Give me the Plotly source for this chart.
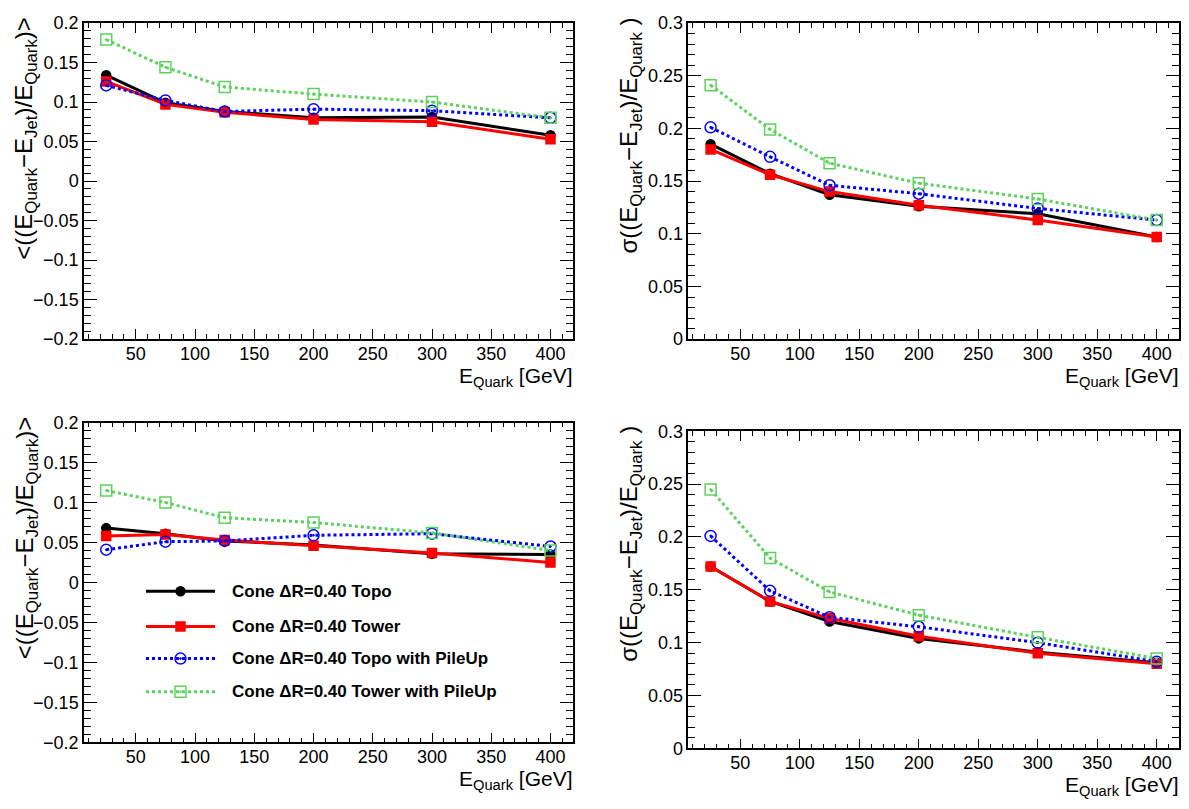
import plotly.graph_objects as go

# Quark energies (GeV) at which the jet response was evaluated
energy = [25, 75, 125, 200, 300, 400]

# Upper row: mean relative energy difference
mean_a_topo = [0.134, 0.099, 0.088, 0.080, 0.081, 0.058]
mean_a_tower = [0.126, 0.097, 0.087, 0.078, 0.075, 0.053]
mean_a_topo_pu = [0.121, 0.102, 0.088, 0.091, 0.089, 0.080]
mean_a_tower_pu = [0.179, 0.144, 0.119, 0.110, 0.100, 0.080]

# Upper row: resolution
sigma_a_topo = [0.185, 0.157, 0.137, 0.126, 0.119, 0.097]
sigma_a_tower = [0.180, 0.156, 0.140, 0.127, 0.113, 0.097]
sigma_a_topo_pu = [0.201, 0.173, 0.146, 0.138, 0.124, 0.113]
sigma_a_tower_pu = [0.241, 0.199, 0.167, 0.148, 0.133, 0.113]

# Lower row: mean relative energy difference
mean_b_topo = [0.068, 0.061, 0.052, 0.047, 0.036, 0.035]
mean_b_tower = [0.058, 0.060, 0.053, 0.046, 0.037, 0.025]
mean_b_topo_pu = [0.041, 0.051, 0.052, 0.059, 0.061, 0.045]
mean_b_tower_pu = [0.115, 0.100, 0.081, 0.075, 0.062, 0.040]

# Lower row: resolution
sigma_b_topo = [0.172, 0.139, 0.120, 0.104, 0.091, 0.081]
sigma_b_tower = [0.172, 0.139, 0.123, 0.106, 0.090, 0.080]
sigma_b_topo_pu = [0.201, 0.149, 0.124, 0.115, 0.100, 0.082]
sigma_b_tower_pu = [0.245, 0.180, 0.148, 0.126, 0.105, 0.085]

series_labels = [
    "Cone ΔR=0.40 Topo",
    "Cone ΔR=0.40 Tower",
    "Cone ΔR=0.40 Topo with PileUp",
    "Cone ΔR=0.40 Tower with PileUp",
]

W, H = 1189, 809
FONT = "Liberation Sans, Arial, Helvetica, sans-serif"
GREEN = "#5cd25c"

styles = [
    dict(color="black", dash="solid", symbol="circle", size=9),
    dict(color="#ff0000", dash="solid", symbol="square", size=9),
    dict(color="#0000ff", dash="dot", symbol="circle-open-dot", size=11),
    dict(color=GREEN, dash="dot", symbol="square-open-dot", size=11),
]


def fx(p):
    return p / W


def fy(p):
    return 1 - p / H


# Frame boxes in pixels: left, right, top, bottom
panels = [
    dict(box=(84, 572.7, 13.3, 337.5), yrange=[-0.2, 0.2], kind="mean",
         data=[mean_a_topo, mean_a_tower, mean_a_topo_pu, mean_a_tower_pu]),
    dict(box=(688.3, 1179, 13.3, 337.5), yrange=[0, 0.3], kind="sigma",
         data=[sigma_a_topo, sigma_a_tower, sigma_a_topo_pu, sigma_a_tower_pu]),
    dict(box=(84, 572.7, 423, 751), yrange=[-0.2, 0.2], kind="mean",
         data=[mean_b_topo, mean_b_tower, mean_b_topo_pu, mean_b_tower_pu]),
    dict(box=(688.3, 1179, 432, 757), yrange=[0, 0.3], kind="sigma",
         data=[sigma_b_topo, sigma_b_tower, sigma_b_topo_pu, sigma_b_tower_pu]),
]

fig = go.Figure()
layout = dict(
    width=W, height=H, margin=dict(l=0, r=0, t=0, b=0),
    paper_bgcolor="white", plot_bgcolor="rgba(0,0,0,0)",
    showlegend=False, font=dict(family=FONT, color="black"),
)
annotations = []

axis_common = dict(
    showline=True, mirror="allticks", linecolor="black", linewidth=1.5,
    ticks="inside", tickcolor="black", tickwidth=1.2,
    showgrid=False, zeroline=False,
    tickfont=dict(family=FONT, size=18, color="black"),
)

Y_TITLES = {
    "mean": "&lt;((E<sub>Quark</sub>−E<sub>Jet</sub>)/E<sub>Quark</sub>)&gt;",
    "sigma": "σ((E<sub>Quark</sub>−E<sub>Jet</sub>)/E<sub>Quark</sub> )",
}

for i, p in enumerate(panels, start=1):
    left, right, top, bottom = p["box"]
    xname = "xaxis" if i == 1 else f"xaxis{i}"
    yname = "yaxis" if i == 1 else f"yaxis{i}"
    xref = "x" if i == 1 else f"x{i}"
    yref = "y" if i == 1 else f"y{i}"
    layout[xname] = dict(
        axis_common, domain=[fx(left), fx(right)], anchor=yref,
        range=[6.25, 418.75], tick0=0, dtick=50, ticklen=10,
        ticklabelstandoff=-3,
        minor=dict(dtick=10, ticklen=5, ticks="inside", tickcolor="black", tickwidth=1.2),
    )
    layout[yname] = dict(
        axis_common, domain=[fy(bottom), fy(top)], anchor=xref,
        range=p["yrange"], tick0=0, dtick=0.05, ticklen=13,
        minor=dict(dtick=0.01, ticklen=7, ticks="inside", tickcolor="black", tickwidth=1.2),
    )
    for vals, st in zip(p["data"], styles):
        fig.add_trace(go.Scatter(
            x=energy, y=vals, xaxis=xref, yaxis=yref, mode="lines+markers",
            line=dict(color=st["color"], width=3, dash=st["dash"]),
            marker=dict(symbol=st["symbol"], size=st["size"], color=st["color"],
                        line=dict(color=st["color"], width=1.5)),
            cliponaxis=False,
        ))
    # x-axis title, right aligned to the frame
    annotations.append(dict(
        xref="paper", yref="paper", x=fx(right + 2), y=fy(bottom + 39),
        xanchor="right", yanchor="middle", showarrow=False,
        text="E<sub>Quark</sub> [GeV]", font=dict(family=FONT, size=21),
    ))
    # y-axis title, rotated and aligned to the top of the frame
    annotations.append(dict(
        xref="paper", yref="paper", x=fx(left - 58), y=fy(top - 8),
        xanchor="center", yanchor="top", showarrow=False, textangle=-90,
        text=Y_TITLES[p["kind"]], font=dict(family=FONT, size=24),
    ))

# Legend drawn on a pixel-scaled helper axis over the lower-left panel
layout["xaxis5"] = dict(domain=[0, 1], range=[0, W], visible=False, anchor="y5", fixedrange=True)
layout["yaxis5"] = dict(domain=[0, 1], range=[H, 0], visible=False, anchor="x5", fixedrange=True)
legend_rows = [596, 632, 665, 699]
key_x0, key_x1, text_x = 146, 215, 230
for label, st, ry in zip(series_labels, styles, legend_rows):
    fig.add_trace(go.Scatter(
        x=[key_x0, key_x1], y=[ry, ry], xaxis="x5", yaxis="y5", mode="lines",
        line=dict(color=st["color"], width=3, dash=st["dash"]), hoverinfo="skip",
    ))
    fig.add_trace(go.Scatter(
        x=[(key_x0 + key_x1) / 2], y=[ry], xaxis="x5", yaxis="y5", mode="markers",
        marker=dict(symbol=st["symbol"], size=st["size"], color=st["color"],
                    line=dict(color=st["color"], width=1.5)), hoverinfo="skip",
    ))
    annotations.append(dict(
        xref="paper", yref="paper", x=fx(text_x), y=fy(ry),
        xanchor="left", yanchor="middle", showarrow=False,
        text=f"<b>{label}</b>", font=dict(family=FONT, size=17),
    ))

layout["annotations"] = annotations
fig.update_layout(**layout)
fig.write_html("out.html")
